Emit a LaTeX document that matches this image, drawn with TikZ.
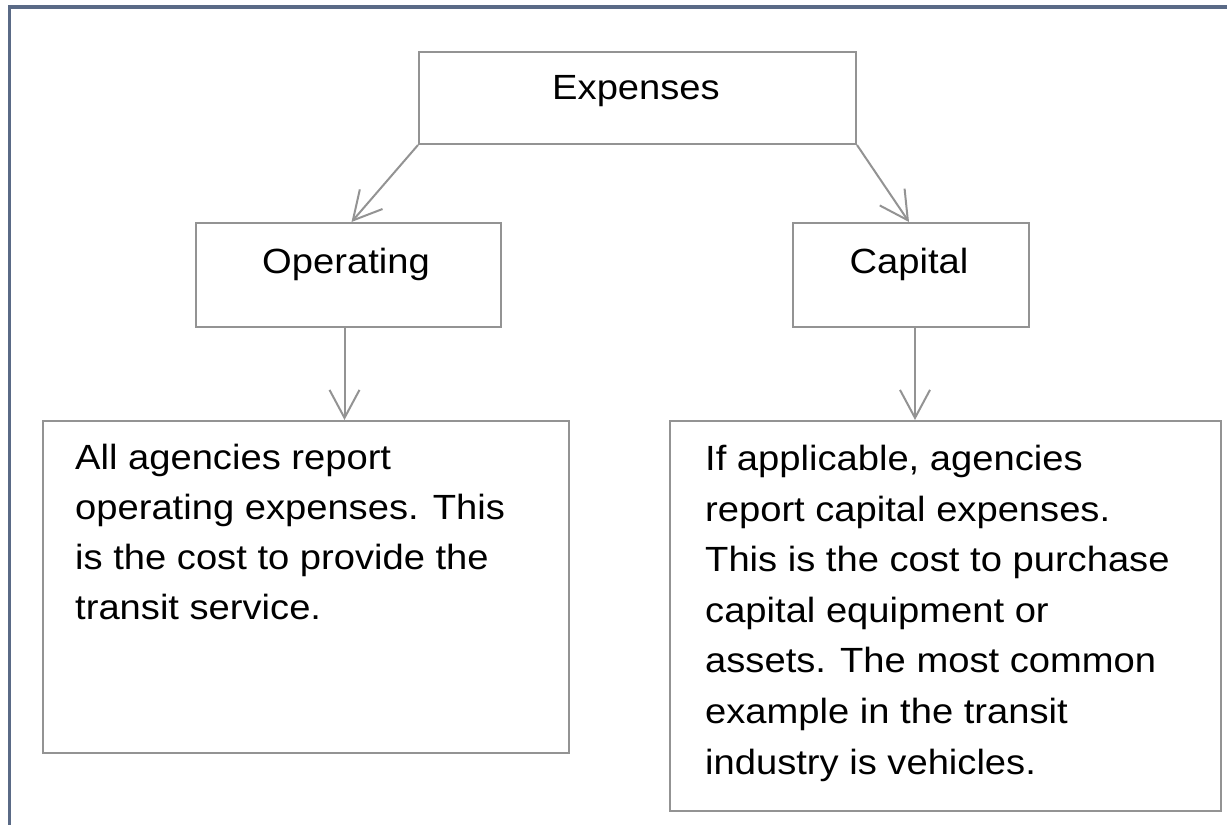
\documentclass[tikz,border=0pt]{standalone}
\usepackage{fontspec}
\setmainfont[FakeStretch=1.09]{Liberation Sans}
\usetikzlibrary{arrows.meta}
\definecolor{framec}{HTML}{5A6A86}
\definecolor{boxc}{HTML}{939393}
\begin{document}
\begin{tikzpicture}[x=1pt,y=-1pt,
  box/.style={draw=boxc,line width=2pt,inner sep=0pt,anchor=north west},
  lbl/.style={inner sep=0pt,font=\fontsize{35}{40}\selectfont,anchor=base},
  para/.style={inner sep=0pt,align=left,anchor=base west,font=\fontsize{35}{49.8}\selectfont},
  conn/.style={draw=boxc,line width=2pt,-{Straight Barb[length=28pt,width=30pt,line width=2pt]}}]
\useasboundingbox (0,0) rectangle (1227,825);
% outer frame
\fill[framec] (8,5) rectangle (1227,9);
\fill[framec] (8,5) rectangle (11,825);
% boxes
\node[box,minimum width=437pt,minimum height=92pt] (exp) at (418,51) {};
\node[box,minimum width=305pt,minimum height=104pt] (op) at (195,222) {};
\node[box,minimum width=236pt,minimum height=104pt] (cap) at (792,222) {};
\node[box,minimum width=526pt,minimum height=332pt] (lt) at (42,420) {};
\node[box,minimum width=551pt,minimum height=390pt] (rt) at (669,420) {};
% labels
\node[lbl] (expt) at (636,99) {Expenses};
\node[lbl] (opt) at (346,273) {Operating};
\node[lbl] (capt) at (909,273) {Capital};
\node[para] (ltt) at (75,619) {All agencies report\\operating expenses. This\\is the cost to provide the\\transit service.};
\node[para,font=\fontsize{35}{50.6}\selectfont] (rtt) at (705,774) {If applicable, agencies\\report capital expenses.\\This is the cost to purchase\\capital equipment or\\assets. The most common\\example in the transit\\industry is vehicles.};
% connectors
\draw[conn] (exp.south west) -- ([xshift=3pt]op.north);
\draw[conn] (exp.south east) -- ([xshift=-2pt]cap.north);
\draw[conn] ([xshift=-4pt]op.south) -- ([xshift=-4pt]op.south |- lt.north);
\draw[conn] ([xshift=4pt]cap.south) -- ([xshift=4pt]cap.south |- rt.north);
\end{tikzpicture}
\end{document}
